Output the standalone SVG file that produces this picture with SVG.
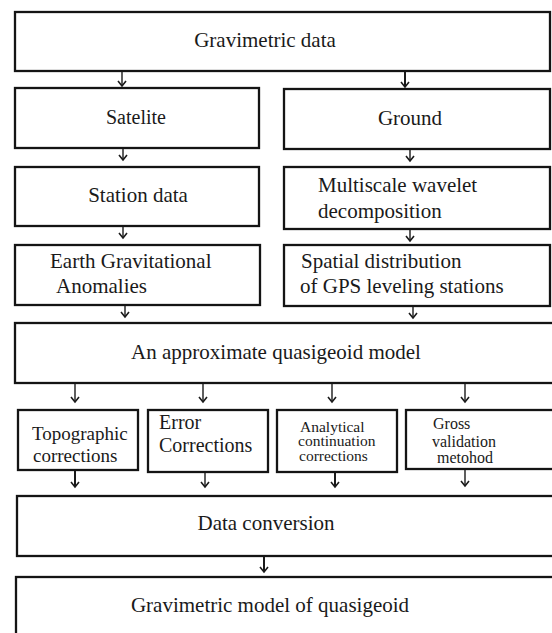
<svg xmlns="http://www.w3.org/2000/svg" width="552" height="633" viewBox="0 0 552 633">
<style>
.box{fill:#fff;stroke:#141414;stroke-width:2.3}
text{font-family:'Liberation Serif','Times New Roman','DejaVu Serif',serif;fill:#1a1a1a}
.c{text-anchor:middle}
.conn line{stroke:#1a1a1a;stroke-width:1.4;marker-end:url(#ah)}
.conn line.b{stroke-width:2}
</style>
<defs>
<marker id="ah" viewBox="-7 -6 9 12" refX="0" refY="0" markerWidth="9" markerHeight="12" markerUnits="userSpaceOnUse" orient="auto">
<path d="M-5,-4 L0,0 L-5,4" fill="none" stroke="#1a1a1a" stroke-width="1.6"/>
</marker>
</defs>
<rect width="552" height="633" fill="#fff"/>
<g font-family="Liberation Serif, Times New Roman, DejaVu Serif, serif">
<g id="n-gravimetric-data"><rect class="box" x="15" y="12" width="535" height="59"/><text class="c" x="265" y="47" font-size="21">Gravimetric data</text></g>
<g id="n-satelite"><rect class="box" x="15" y="88" width="244" height="60"/><text class="c" x="136" y="124" font-size="20">Satelite</text></g>
<g id="n-ground"><rect class="box" x="284" y="89" width="266" height="60"/><text class="c" x="410" y="125" font-size="21">Ground</text></g>
<g id="n-station"><rect class="box" x="15" y="167" width="244" height="59"/><text class="c" x="138" y="202" font-size="21">Station data</text></g>
<g id="n-multiscale"><rect class="box" x="284" y="167" width="266" height="62"/><text x="318" y="192" font-size="21">Multiscale wavelet</text><text x="318" y="218" font-size="21">decomposition</text></g>
<g id="n-earth"><rect class="box" x="15" y="245" width="245" height="60"/><text x="50" y="268" font-size="21">Earth Gravitational</text><text x="56" y="293" font-size="21">Anomalies</text></g>
<g id="n-spatial"><rect class="box" x="284" y="245" width="266" height="61"/><text x="301" y="268" font-size="21">Spatial distribution</text><text x="300" y="293" font-size="21">of GPS leveling stations</text></g>
<g id="n-approx"><rect class="box" x="15" y="323" width="545" height="60"/><text class="c" x="276" y="359" font-size="21">An approximate quasigeoid model</text></g>
<g id="n-topo"><rect class="box" x="18" y="410" width="120" height="60"/><text x="32" y="440" font-size="19">Topographic</text><text x="33" y="462" font-size="19">corrections</text></g>
<g id="n-error"><rect class="box" x="148" y="410" width="120" height="62"/><text x="159" y="429" font-size="20">Error</text><text x="159" y="452" font-size="20">Corrections</text></g>
<g id="n-analytical"><rect class="box" x="277" y="410" width="120" height="62"/><text x="300" y="431.5" font-size="15.5">Analytical</text><text x="298" y="446" font-size="15.5">continuation</text><text x="299" y="460.5" font-size="15.5">corrections</text></g>
<g id="n-gross"><rect class="box" x="406" y="410" width="150" height="59"/><text x="433" y="429" font-size="16">Gross</text><text x="432" y="447" font-size="16">validation</text><text x="437" y="463" font-size="16">metohod</text></g>
<g id="n-dataconv"><rect class="box" x="17" y="496" width="543" height="60"/><text class="c" x="266" y="530" font-size="21">Data conversion</text></g>
<g id="n-final"><rect class="box" x="16" y="577" width="544" height="70"/><text class="c" x="270" y="612" font-size="21">Gravimetric model of quasigeoid</text></g>
</g>
<g id="connectors" class="conn">
<line x1="122" y1="72" x2="122" y2="86"/>
<line class="b" x1="405" y1="72" x2="405" y2="87"/>
<line x1="123" y1="149" x2="123" y2="160"/>
<line x1="410" y1="150" x2="410" y2="161"/>
<line x1="123" y1="227" x2="123" y2="238"/>
<line x1="410" y1="230" x2="410" y2="241"/>
<line x1="125" y1="306" x2="125" y2="317"/>
<line x1="413" y1="307" x2="413" y2="318"/>
<line x1="75" y1="384" x2="75" y2="402"/>
<line x1="203" y1="384" x2="203" y2="402"/>
<line x1="332" y1="384" x2="332" y2="402"/>
<line x1="465" y1="384" x2="465" y2="402"/>
<line class="b" x1="75" y1="471" x2="75" y2="487"/>
<line x1="205" y1="473" x2="205" y2="487"/>
<line class="b" x1="335" y1="473" x2="335" y2="487"/>
<line x1="465" y1="470" x2="465" y2="486"/>
<line class="b" x1="264" y1="557" x2="264" y2="572"/>
</g>
</svg>
